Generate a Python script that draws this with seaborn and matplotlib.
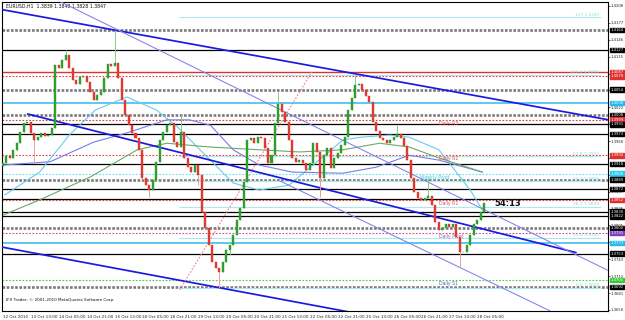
import matplotlib
matplotlib.use("Agg")
import matplotlib.pyplot as plt
import matplotlib.transforms as mtransforms
import numpy as np
import pandas as pd
import seaborn as sns

sns.set_style("white")
plt.rcParams['font.family'] = ['DejaVu Sans']

# ---------------- data ----------------
title_text = "EURUSD,H1  1.3839 1.3848 1.3828 1.3847"
copyright_text = "IFX Trader, \u00a9 2001-2010 MetaQuotes Software Corp."
timer_text = "54:13"

first_open = 1.3915
# 2-hour closes (bar index = 2*k)
closes = [1.3920, 1.3933, 1.3929, 1.3944, 1.3956, 1.3977, 1.3993, 1.3995, 1.3975, 1.3962,
          1.3967, 1.3975, 1.3969, 1.3971, 1.3984, 1.4100, 1.4094, 1.4109, 1.4118, 1.4094,
          1.4072, 1.4065, 1.4078, 1.4079, 1.4068, 1.4050, 1.4035, 1.4045, 1.4050, 1.4076,
          1.4101, 1.4098, 1.4103, 1.4076, 1.4035, 1.4008, 1.3989, 1.3975, 1.3966, 1.3944,
          1.3892, 1.3879, 1.3870, 1.3889, 1.3922, 1.3962, 1.3977, 1.3989, 1.3993, 1.3958,
          1.3949, 1.3977, 1.3929, 1.3912, 1.3903, 1.3916, 1.3898, 1.3830, 1.3800, 1.3769,
          1.3738, 1.3727, 1.3720, 1.3738, 1.3760, 1.3769, 1.3788, 1.3815, 1.3837, 1.3885,
          1.3962, 1.3966, 1.3956, 1.3967, 1.3966, 1.3947, 1.3920, 1.3934, 1.3993, 1.4028,
          1.4013, 1.3995, 1.3962, 1.3929, 1.3922, 1.3925, 1.3920, 1.3907, 1.3920, 1.3956,
          1.3940, 1.3892, 1.3934, 1.3947, 1.3911, 1.3929, 1.3938, 1.3953, 1.3967, 1.4017,
          1.4039, 1.4063, 1.4065, 1.4054, 1.4043, 1.4032, 1.3995, 1.3979, 1.3966, 1.3962,
          1.3956, 1.3962, 1.3967, 1.3973, 1.3966, 1.3951, 1.3925, 1.3892, 1.3867, 1.3856,
          1.3852, 1.3856, 1.3859, 1.3843, 1.3811, 1.3797, 1.3800, 1.3808, 1.3802, 1.3808,
          1.3784, 1.3756, 1.3756, 1.3769, 1.3788, 1.3808, 1.3815, 1.3830, 1.3846]
spike_high_k = [18, 32, 51, 79, 101, 113, 122]
spike_high_p = [1.4127, 1.4164, 1.4008, 1.4050, 1.4081, 1.3989, 1.3892]
spike_low_k = [9, 42, 56, 62, 65, 91, 131]
spike_low_p = [1.3922, 1.3857, 1.3879, 1.3690, 1.3751, 1.3857, 1.3729]

# moving averages (bar index, price)
ma_fast_idx = [1, 21, 38, 53, 71, 88, 100, 113, 132, 147, 164, 176, 195, 205, 222, 233, 250, 268, 275]
ma_fast = [1.3861, 1.3903, 1.3971, 1.4017, 1.4041, 1.4017, 1.3986, 1.3944, 1.3883, 1.3870,
           1.3879, 1.3911, 1.3962, 1.3967, 1.3971, 1.3967, 1.3944, 1.3870, 1.3833]
ma_mid_idx = [0, 27, 52, 71, 94, 107, 119, 132, 147, 166, 195, 214, 233, 250, 275]
ma_mid = [1.3916, 1.3922, 1.3958, 1.3975, 1.3999, 1.3999, 1.3989, 1.3944, 1.3916, 1.3903,
          1.3901, 1.3912, 1.3934, 1.3925, 1.3903]
ma_slow_idx = [0, 21, 50, 77, 94, 119, 147, 170, 195, 216, 233, 250, 275]
ma_slow = [1.3824, 1.3852, 1.3894, 1.3944, 1.3956, 1.3949, 1.3944, 1.3940, 1.3944, 1.3956,
           1.3949, 1.3929, 1.3903]

# trend lines: (t0, p0, t1, p1)
thick_lines = [(-1.7, 1.4202, 347.3, 1.3999), (13.8, 1.4010, 329.0, 1.3755), (-1.7, 1.3766, 198.9, 1.3646)]
thin_lines = [(30.9, 1.4219, 346.7, 1.3723), (158.7, 1.3887, 315.2, 1.3646)]
pink_line = (101.4, 1.3687, 177.1, 1.4087)

# horizontal levels
black_levels = [1.4127, 1.3991, 1.3973, 1.3918, 1.3872, 1.3854, 1.3830, 1.3822, 1.3753]
gray_levels = [1.4164, 1.4054, 1.4008, 1.3889, 1.3800, 1.3692]
red_solid_levels = [1.4087]
red_dot_levels = [1.4079, 1.3999, 1.3934, 1.3852]
cyan_levels = [1.4030, 1.3773]
pivot_names = ["Daily R3", "Daily R2", "Weekly Pivot", "Daily R1", "Daily Pivot", "Daily S1"]
pivot_values = [1.3999, 1.3934, 1.3900, 1.3852, 1.3791, 1.3705]
pivot_colors = ["#e05050", "#e05050", "#33ccee", "#e05050", "#c050a0", "#5a5ad0"]
fib_values = [1.4187, 1.4081, 1.3932, 1.3886, 1.3839, 1.3782, 1.3690]
fib_names = ["127", "100.0", "61.8", "50.0", "38.2", "23.6", "0.0"]

# right axis tick labels
ytick_values = [1.4208, 1.4177, 1.4146, 1.4115, 1.4084, 1.4053, 1.4022, 1.3991, 1.3960, 1.3929,
                1.3898, 1.3867, 1.3836, 1.3805, 1.3774, 1.3743, 1.3712, 1.3681, 1.3650]
# right axis boxes (price, colour)
box_values = [1.4164, 1.4127, 1.4087, 1.4079, 1.4054, 1.4030, 1.4008, 1.3999, 1.3991, 1.3973,
              1.3934, 1.3918, 1.3900, 1.3889, 1.3872, 1.3852, 1.3830, 1.3822, 1.3800, 1.3791,
              1.3773, 1.3753, 1.3705, 1.3692]
box_colors = ["k", "k", "#e03030", "#e03030", "k", "#22bbee", "k", "#e03030", "k", "k",
              "#e03030", "k", "#22ccee", "k", "k", "#e03030", "k", "k", "k", "#8040c0",
              "#22bbee", "k", "#33cc33", "k"]

xtick_labels = ["12 Oct 2010", "13 Oct 13:00", "14 Oct 05:00", "14 Oct 21:00", "15 Oct 13:00",
                "18 Oct 05:00", "18 Oct 21:00", "19 Oct 13:00", "20 Oct 05:00", "20 Oct 21:00",
                "21 Oct 13:00", "22 Oct 05:00", "22 Oct 21:00", "25 Oct 13:00", "26 Oct 05:00",
                "26 Oct 21:00", "27 Oct 13:00", "28 Oct 05:00"]
bars_per_label = 16

# ---------------- figure ----------------
fig = plt.figure(figsize=(6.25, 3.2), dpi=100)
ax = fig.add_axes([2 / 625, 9 / 320, 606 / 625, 309 / 320])
ax.set_xlim(-0.57, 347.0)
ax.set_ylim(1.36480, 1.42153)

# horizontal lines
for v in gray_levels:
    ax.axhline(v, color="#7a7a7a", lw=1.9, ls=(0, (1, 0.6)), zorder=1)
for v in black_levels:
    ax.axhline(v, color="#000000", lw=0.9, zorder=1)
for v in red_solid_levels:
    ax.axhline(v, color="#e03030", lw=1.0, zorder=1)
for v in red_dot_levels:
    ax.axhline(v, color="#e04040", lw=0.8, ls=(0, (1.5, 1.5)), zorder=1)
for v in cyan_levels:
    ax.axhline(v, color="#30b8ee", lw=1.1, zorder=1)
ax.axhline(pivot_values[2], color="#66ddee", lw=0.8, ls=(0, (1.5, 1.5)), zorder=1)
ax.axhline(pivot_values[4], color="#c050a0", lw=0.8, ls=(0, (1.5, 1.5)), zorder=1)
ax.axhline(pivot_values[5], color="#44cc44", lw=0.8, ls=(0, (1.5, 1.5)), zorder=1)
for v in fib_values:
    ax.hlines(v, 101, 343, color="#aee8ee", lw=0.8, zorder=1)
for name, v in zip(fib_names, fib_values):
    ax.text(342, v + 0.00012, f"{name} {v:.4f}", fontsize=3.2, color="#88dddd",
            ha="right", va="bottom", zorder=3)
for name, v, c in zip(pivot_names, pivot_values, pivot_colors):
    xpos = 239 if name == "Weekly Pivot" else 250
    ax.text(xpos, v - 0.0006, name, fontsize=3.3, color=c, ha="left", va="center", zorder=3)

# moving averages via seaborn
ma_df = pd.concat([
    pd.DataFrame({"t": ma_fast_idx, "p": ma_fast, "ma": "fast"}),
    pd.DataFrame({"t": ma_mid_idx, "p": ma_mid, "ma": "mid"}),
    pd.DataFrame({"t": ma_slow_idx, "p": ma_slow, "ma": "slow"}),
])
sns.lineplot(data=ma_df, x="t", y="p", hue="ma",
             palette={"fast": "#66ccee", "mid": "#7a7aee", "slow": "#6aaa6a"},
             lw=0.8, legend=False, ax=ax, sort=False, zorder=2)

# trend lines
for (t0, p0, t1, p1) in thick_lines:
    ax.plot([t0, t1], [p0, p1], color="#1a1ae0", lw=1.25, zorder=4, solid_capstyle="butt")
for (t0, p0, t1, p1) in thin_lines:
    ax.plot([t0, t1], [p0, p1], color="#8080ee", lw=0.75, zorder=4)
ax.plot([pink_line[0], pink_line[2]], [pink_line[1], pink_line[3]], color="#f08080", lw=0.8,
        ls=(0, (1.5, 1.5)), zorder=4)

# candles
opens = [first_open] + closes[:-1]
highs = [max(o, c) for o, c in zip(opens, closes)]
lows = [min(o, c) for o, c in zip(opens, closes)]
for k, p in zip(spike_high_k, spike_high_p):
    highs[k] = p
for k, p in zip(spike_low_k, spike_low_p):
    lows[k] = p
for k, (o, c, h, l) in enumerate(zip(opens, closes, highs, lows)):
    t = 2 * k
    up = c >= o
    body = "#2e9e2e" if up else "#e03a30"
    wick = "#7fd07f" if up else "#f49a9a"
    ax.vlines(t, l, h, color=wick, lw=0.7, zorder=5)
    ax.bar(t, max(abs(c - o), 0.00008), bottom=min(o, c), width=1.15, color=body,
           edgecolor=body, lw=0.3, zorder=6)

# texts
ax.text(0.006, 0.995, title_text, transform=ax.transAxes, fontsize=3.3, ha="left", va="top", color="#111111")
ax.text(0.006, 0.035, copyright_text, transform=ax.transAxes, fontsize=3.0, ha="left", va="center", color="#111111")
ax.text(282, 1.3846, timer_text, fontsize=6, fontweight="bold", ha="left", va="center", color="#111111", zorder=7)

# axes styling
ax.yaxis.tick_right()
ax.set_yticks(ytick_values)
ax.set_yticklabels([f"{v:.4f}" for v in ytick_values])
ax.set_xticks([i * bars_per_label for i in range(len(xtick_labels))])
ax.set_xticklabels(xtick_labels)
ax.tick_params(axis="y", labelsize=2.7, length=1.5, width=0.5, pad=0.5, colors="#222222")
ax.tick_params(axis="x", labelsize=3.0, length=2, width=0.5, pad=1, colors="#222222")
for lab in ax.get_xticklabels():
    lab.set_horizontalalignment("left")
for s in ax.spines.values():
    s.set_color("#000000")
    s.set_linewidth(0.8)
ax.set_xlabel("")
ax.set_ylabel("")

# right-axis price boxes
trans = mtransforms.blended_transform_factory(ax.transAxes, ax.transData)
for v, c in zip(box_values, box_colors):
    ax.text(1.0035, v, f"{v:.4f}", transform=trans, fontsize=2.7, color="white", ha="left", va="center",
            bbox=dict(boxstyle="square,pad=0.1", fc=c, ec=c), zorder=8, clip_on=False)

fig.savefig("out.png", dpi=100, facecolor="white")
